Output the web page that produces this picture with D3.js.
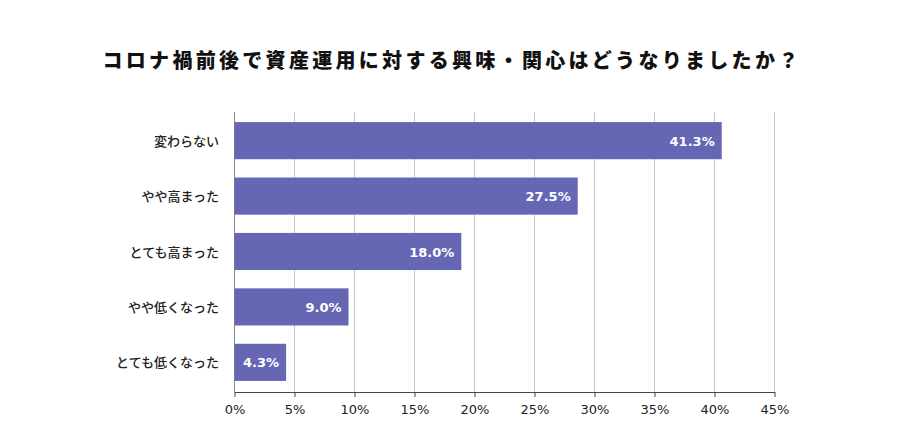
<!DOCTYPE html><html><head><meta charset="utf-8"><script src="https://cdn.jsdelivr.net/npm/d3@7"></script>
<style>body{margin:0;background:#fff}text{font-family:"Noto Sans CJK JP",sans-serif}text.num{font-family:"DejaVu Sans",Verdana,sans-serif}</style></head><body><svg id="c" width="900" height="430"></svg><script>
const categories=["変わらない","やや高まった","とても高まった","やや低くなった","とても低くなった"];
const barValues=[40.6,28.6,18.9,9.5,4.3];
const valueLabels=["41.3%","27.5%","18.0%","9.0%","4.3%"];
const tickValues=[0,5,10,15,20,25,30,35,40,45];
const svg=d3.select("#c");
const x=d3.scaleLinear().domain([0,45]).range([234.5,774.5]);
const y=d3.scaleBand().domain(categories).range([111,392]).paddingInner(0.33).paddingOuter(0.2);
svg.append("text").attr("x",452).attr("y",68).attr("text-anchor","middle").attr("font-size",20).attr("font-weight","900").attr("letter-spacing",3.3).attr("fill","#111").text("コロナ禍前後で資産運用に対する興味・関心はどうなりましたか？");
svg.selectAll(".g").data(tickValues).join("line").attr("x1",d=>x(d)).attr("x2",d=>x(d)).attr("y1",112).attr("y2",392).attr("stroke",(d)=>d===0?"#888":"#c8c8c8").attr("stroke-width",1);
svg.selectAll(".b").data(categories).join("rect").attr("x",x(0)).attr("y",d=>y(d)).attr("height",y.bandwidth()).attr("width",(d,i)=>x(barValues[i])-x(0)).attr("fill","#6567b4");
svg.selectAll(".v").data(categories).join("text").attr("class","num").attr("x",(d,i)=>x(barValues[i])-7).attr("y",d=>y(d)+y.bandwidth()/2+5).attr("text-anchor","end").attr("fill","#fff").attr("font-size",13).attr("font-weight","bold").text((d,i)=>valueLabels[i]);
svg.selectAll(".c").data(categories).join("text").attr("x",219).attr("y",d=>y(d)+y.bandwidth()/2+5).attr("text-anchor","end").attr("font-size",13).attr("font-weight","500").attr("fill","#222").text(d=>d);
const ax=svg.append("g").attr("transform","translate(0,392)").call(d3.axisBottom(x).tickValues(tickValues).tickFormat(d=>d+"%").tickSize(5).tickSizeOuter(0));
ax.select(".domain").attr("stroke","#444");ax.selectAll(".tick line").attr("stroke","#444");
ax.selectAll("text").attr("class","num").attr("font-size",13).attr("fill","#222").attr("dy","1.1em");
</script></body></html>
